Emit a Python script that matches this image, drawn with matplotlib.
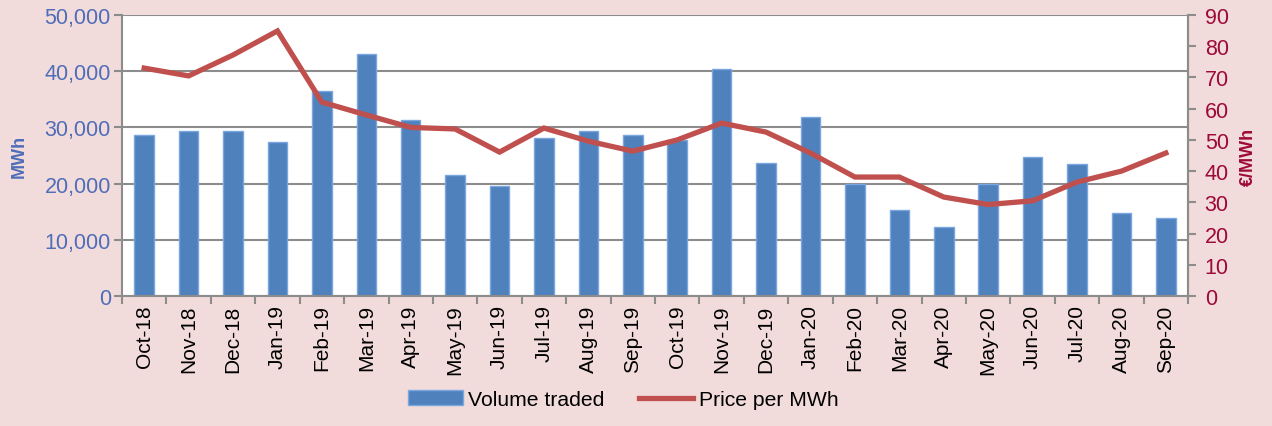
import numpy as np
import matplotlib as mpl
import matplotlib.pyplot as plt
from matplotlib.patches import Patch
from matplotlib.lines import Line2D
from matplotlib.ticker import FuncFormatter, FixedLocator

mpl.rcParams['font.family'] = ['Liberation Sans', 'DejaVu Sans']

months = ['Oct-18', 'Nov-18', 'Dec-18', 'Jan-19', 'Feb-19', 'Mar-19', 'Apr-19', 'May-19',
          'Jun-19', 'Jul-19', 'Aug-19', 'Sep-19', 'Oct-19', 'Nov-19', 'Dec-19', 'Jan-20',
          'Feb-20', 'Mar-20', 'Apr-20', 'May-20', 'Jun-20', 'Jul-20', 'Aug-20', 'Sep-20']
volume = [28600, 29400, 29400, 27400, 36500, 43100, 31300, 21500,
          19600, 28100, 29300, 28700, 27800, 40400, 23600, 31800,
          19900, 15300, 12300, 19900, 24700, 23500, 14800, 13900]
price = [73.0, 70.5, 77.2, 84.9, 62.1, 58.0, 54.0, 53.5,
         46.1, 53.8, 49.6, 46.4, 50.0, 55.4, 52.5, 45.8,
         38.1, 38.1, 31.7, 29.3, 30.5, 36.5, 40.0, 45.8]

bg = '#F2DCDB'
bar_col = '#4F81BD'
line_col = '#C0504D'
blue_txt = '#4F6DB8'
red_txt = '#9E0A36'
grid_col = '#8C8C8C'

fig = plt.figure(figsize=(12.72, 4.27), dpi=100, facecolor=bg)
ax = fig.add_axes([0.0959, 0.3044, 0.8381, 0.6581])
ax.set_facecolor('white')
x = np.arange(len(months))

ax.bar(x, volume, width=0.44, color=bar_col, edgecolor='#7BA7E0', linewidth=1.0, zorder=2)
ax.set_ylim(0, 50000)
ax.set_xlim(-0.5, len(months) - 0.5)
ax.set_yticks(np.arange(0, 50001, 10000))
ax.yaxis.set_major_formatter(FuncFormatter(lambda v, p: f'{int(v):,}'))
ax.tick_params(axis='y', colors=grid_col, labelcolor=blue_txt, labelsize=15.5,
               length=6, width=1.5, direction='out', pad=2)
ax.grid(axis='y', color=grid_col, linewidth=1.5, zorder=0)
ax.set_axisbelow(True)

ax.set_xticks(x)
ax.set_xticklabels(months, rotation=90, fontsize=15, color='black')
ax.tick_params(axis='x', which='major', length=0, pad=6)
ax.xaxis.set_minor_locator(FixedLocator(np.arange(-0.5, len(months), 1)))
ax.tick_params(axis='x', which='minor', length=6, width=1.5, color=grid_col, direction='out')

ax.spines['top'].set_visible(False)
for s in ['left', 'right', 'bottom']:
    ax.spines[s].set_color(grid_col)
    ax.spines[s].set_linewidth(1.5)

ax.set_ylabel('MWh', color=blue_txt, fontsize=13, fontweight='bold', labelpad=12)

ax2 = ax.twinx()
ax2.plot(x, price, color=line_col, linewidth=3.8, solid_joinstyle='miter', zorder=3)
ax2.set_ylim(0, 90)
ax2.set_yticks(np.arange(0, 91, 10))
ax2.tick_params(axis='y', colors=grid_col, labelcolor=red_txt, labelsize=15.5,
                length=6, width=1.5, direction='out', pad=6)
for s in ['top', 'left', 'bottom']:
    ax2.spines[s].set_visible(False)
ax2.spines['right'].set_color(grid_col)
ax2.spines['right'].set_linewidth(1.5)
ax2.set_ylabel('€/MWh', color=red_txt, fontsize=13, fontweight='bold', labelpad=8)

handles = [Patch(facecolor=bar_col, edgecolor='#7BA7E0'),
           Line2D([0], [0], color=line_col, linewidth=3.8)]
fig.legend(handles, ['Volume traded', 'Price per MWh'], loc='center',
           bbox_to_anchor=(0.49, 0.062), ncol=2, frameon=False, fontsize=15.2,
           handlelength=2.6, handletextpad=0.25, columnspacing=1.6)

fig.savefig('out.png', dpi=100, facecolor=bg)
